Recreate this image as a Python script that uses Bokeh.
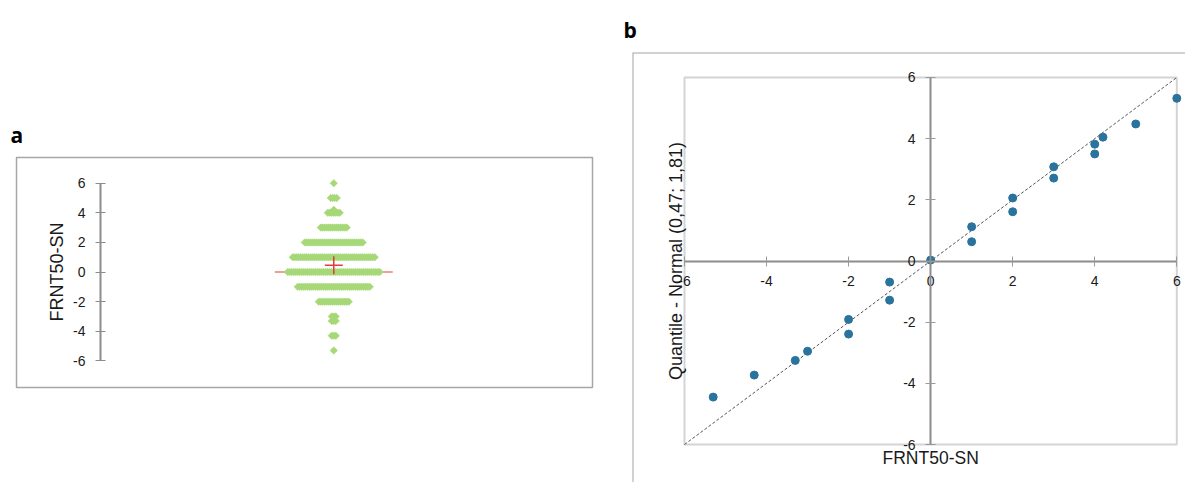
import math
from bokeh.plotting import figure
from bokeh.models import LinearAxis, FixedTicker, Label, Span, Range1d, Title
from bokeh.layouts import row
from bokeh.embed import file_html
from bokeh.resources import INLINE

# ---------------- data ----------------
# panel a: dot-density (scattergram) of FRNT50-SN values
dot_values = [6, 5, 4.2, 4, 3, 2, 1, 0, -1, -2, -3, -3.3, -4.3, -5.3]
dot_counts = [1, 4, 1, 7, 14, 30, 42, 47, 37, 16, 3, 3, 3, 1]
a_ticks = [-6, -4, -2, 0, 2, 4, 6]

# panel b: Q-Q plot (observed vs normal quantiles)
qq_x = [-5.3, -4.3, -3.3, -3, -2, -2, -1, -1, 0, 1, 1, 2, 2, 3, 3, 4, 4, 4.2, 5, 6]
qq_y = [-4.45, -3.73, -3.25, -2.95, -1.91, -2.39, -0.69, -1.28, 0.03, 1.12, 0.63,
        2.06, 1.61, 3.08, 2.71, 3.82, 3.50, 4.05, 4.48, 5.32]
b_ticks = [-6, -4, -2, 0, 2, 4, 6]

var_label = "FRNT50-SN"
qq_ylabel = "Quantile - Normal (0,47; 1,81)"
panel_a_tag = "a"
panel_b_tag = "b"

# ---------------- styles / layout constants ----------------
FONT = "Liberation Sans"
TAG_FONT = "Open Sans"
TXT = "#1A1A1A"
AXIS_COL = "#8C8C8C"
BOX_COL = "#A6A6A6"
GREEN = "#A6D878"
BLUE = "#2A739C"

GROUP_X = 1.0          # category position of the single group in panel a
DOT_STEP = 2 / 233.3   # horizontal spacing between stacked dots (2 px)
AX_LIM = 6

# ---------------- derived stats ----------------
xs, ys = [], []
for v, n in zip(dot_values, dot_counts):
    for i in range(n):
        xs.append(GROUP_X + (i - (n - 1) / 2) * DOT_STEP)
        ys.append(v)
total = sum(dot_counts)
mean_val = sum(v * n for v, n in zip(dot_values, dot_counts)) / total
srt = sorted(ys)
median_val = (srt[(total - 1) // 2] + srt[total // 2]) / 2


def tag_title(txt, offset):
    return Title(text=txt, align="left", offset=offset, standoff=18,
                 text_font=TAG_FONT, text_font_style="bold",
                 text_font_size="21px", text_color="black")


def style_axis(ax, tick_col):
    ax.major_label_text_font = FONT
    ax.major_label_text_font_size = "14px"
    ax.major_label_text_color = TXT
    ax.major_label_standoff = 10
    ax.major_tick_in = 5
    ax.major_tick_out = 5
    ax.major_tick_line_color = tick_col
    ax.minor_tick_line_color = None
    ax.axis_line_color = AXIS_COL
    ax.axis_line_width = 2


# ---------------- panel a ----------------
xa0, xa1 = -0.36, 2.109
ya0, ya1 = -7.80, 7.736
pa = figure(width=620, height=482,
            x_range=Range1d(xa0, xa1), y_range=Range1d(ya0, ya1),
            x_axis_type=None, y_axis_type=None, title=tag_title(panel_a_tag, -6),
            toolbar_location=None, output_backend="svg", frame_align=False,
            min_border_left=16, min_border_right=28,
            min_border_top=157, min_border_bottom=95)
pa.outline_line_color = BOX_COL
pa.outline_line_width = 1.5
pa.background_fill_color = "white"
pa.border_fill_color = "white"

ya = LinearAxis(fixed_location=0, bounds=(-AX_LIM, AX_LIM),
                ticker=FixedTicker(ticks=a_ticks, minor_ticks=[]),
                major_label_overrides={t: str(t) for t in a_ticks},
                axis_label=var_label)
style_axis(ya, AXIS_COL)
ya.axis_label_text_font = FONT
ya.axis_label_text_font_size = "18px"
ya.axis_label_text_font_style = "normal"
ya.axis_label_text_color = TXT
ya.axis_label_standoff = 3
pa.add_layout(ya, "left")

pa.scatter(x=[GROUP_X], y=[median_val], marker="dash", size=118,
           line_color="#F07A7A", line_width=1.6)
pa.scatter(x=xs, y=ys, marker="square", angle=math.pi / 4, size=5.3,
           fill_color=GREEN, line_color=GREEN, line_width=0.5)
pa.scatter(x=[GROUP_X], y=[mean_val], marker="cross", size=18,
           line_color="#E63B3B", line_width=1.5)

# ---------------- panel b ----------------
xb0, xb1 = -7.267, 6.212
yb0, yb1 = -7.242, 6.817
pb = figure(width=565, height=482,
            x_range=Range1d(xb0, xb1), y_range=Range1d(yb0, yb1),
            x_axis_type=None, y_axis_type=None, title=tag_title(panel_b_tag, -9),
            toolbar_location=None, output_backend="svg", frame_align=False,
            min_border_left=12, min_border_right=0,
            min_border_top=52, min_border_bottom=0)
pb.outline_line_color = None
pb.background_fill_color = "white"
pb.border_fill_color = "white"

pb.add_layout(Span(location=xb0, dimension="height", line_color=BOX_COL, line_width=2))
pb.add_layout(Span(location=yb1, dimension="width", line_color=BOX_COL, line_width=2))

pb.quad(left=[-AX_LIM], right=[AX_LIM], bottom=[-AX_LIM], top=[AX_LIM],
        fill_color=None, line_color="#D4D4D4", line_width=2)

xax = LinearAxis(fixed_location=0, bounds=(-AX_LIM, AX_LIM),
                 ticker=FixedTicker(ticks=b_ticks, minor_ticks=[]),
                 major_label_overrides={t: str(t) for t in b_ticks})
yax = LinearAxis(fixed_location=0, bounds=(-AX_LIM, AX_LIM),
                 ticker=FixedTicker(ticks=b_ticks, minor_ticks=[]),
                 major_label_overrides={t: str(t) for t in b_ticks})
style_axis(xax, "#9A9A9A")
style_axis(yax, "#9A9A9A")
pb.add_layout(xax, "below")
pb.add_layout(yax, "left")

pb.line(x=[-AX_LIM, AX_LIM], y=[-AX_LIM, AX_LIM], line_dash="3 2",
        line_color="#555555", line_width=1)
pb.scatter(x=qq_x, y=qq_y, marker="circle", size=8,
           fill_color=BLUE, line_color=BLUE)

pb.add_layout(Label(x=0, y=-AX_LIM, y_offset=-3, text=var_label,
                    text_font=FONT, text_font_size="17.5px", text_color=TXT,
                    text_align="center", text_baseline="top"))
pb.add_layout(Label(x=-AX_LIM, y=0, x_offset=-8, angle=math.pi / 2, text=qq_ylabel,
                    text_font=FONT, text_font_size="18px", text_color=TXT,
                    text_align="center", text_baseline="alphabetic"))

layout = row(pa, pb)
open("out.html", "w").write(file_html(layout, INLINE))
